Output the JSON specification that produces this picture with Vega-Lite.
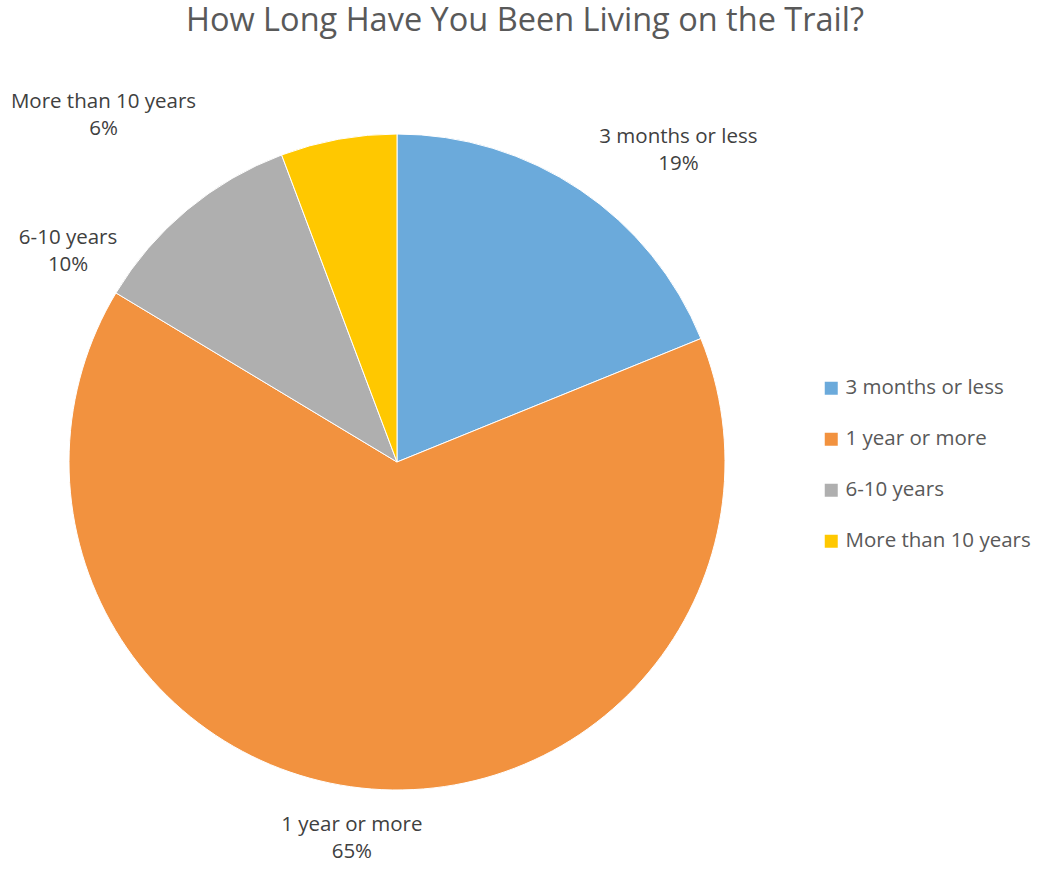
{
  "$schema": "https://vega.github.io/schema/vega-lite/v6.json",
  "width": 794,
  "height": 814,
  "autosize": {"type": "none"},
  "padding": {"left": 0, "top": 55, "right": 244, "bottom": 0},
  "background": "white",
  "title": {
    "text": "How Long Have You Been Living on the Trail?",
    "font": "Open Sans",
    "fontSize": 32.5,
    "fontWeight": "normal",
    "color": "#595959",
    "anchor": "middle",
    "frame": "group",
    "dx": 128,
    "offset": -41,
    "baseline": "alphabetic"
  },
  "data": {
    "values": [
      {"category": "3 months or less", "value": 18.86, "label": "3 months or less\n19%", "idx": 1},
      {"category": "1 year or more", "value": 64.76, "label": "1 year or more\n65%", "idx": 2},
      {"category": "6-10 years", "value": 10.66, "label": "6-10 years\n10%", "idx": 3},
      {"category": "More than 10 years", "value": 5.72, "label": "More than 10 years\n6%", "idx": 4}
    ]
  },
  "encoding": {
    "theta": {"field": "value", "type": "quantitative", "stack": true},
    "order": {"field": "idx", "type": "quantitative"},
    "detail": {"field": "category", "type": "nominal"}
  },
  "layer": [
    {
      "mark": {"type": "arc", "radius": 328, "stroke": "white", "strokeWidth": 1},
      "encoding": {
        "color": {
          "field": "category",
          "type": "nominal",
          "scale": {
            "domain": ["3 months or less", "1 year or more", "6-10 years", "More than 10 years"],
            "range": ["#6BAADB", "#F2923F", "#AFAFAF", "#FFC800"]
          },
          "legend": {
            "title": null,
            "orient": "none",
            "legendX": 821,
            "legendY": 323,
            "symbolType": "square",
            "symbolSize": 169,
            "symbolStrokeWidth": 0,
            "labelFont": "Open Sans",
            "labelFontSize": 20.5,
            "labelColor": "#595959",
            "labelLimit": 300,
            "rowPadding": 30,
            "labelOffset": 4,
            "padding": 0
          }
        }
      }
    },
    {
      "mark": {"type": "text", "radius": 400, "dx": 58, "dy": 7, "font": "Open Sans", "fontSize": 20.5, "color": "#404040", "align": "center", "baseline": "middle", "lineBreak": "\n", "lineHeight": 27},
      "encoding": {"text": {"condition": {"test": "datum.idx == 1", "field": "label"}, "value": ""}}
    },
    {
      "mark": {"type": "text", "radius": 400, "dx": -14, "dy": -36, "font": "Open Sans", "fontSize": 20.5, "color": "#404040", "align": "center", "baseline": "middle", "lineBreak": "\n", "lineHeight": 27},
      "encoding": {"text": {"condition": {"test": "datum.idx == 2", "field": "label"}, "value": ""}}
    },
    {
      "mark": {"type": "text", "radius": 400, "dx": -73, "dy": 83, "font": "Open Sans", "fontSize": 20.5, "color": "#404040", "align": "center", "baseline": "middle", "lineBreak": "\n", "lineHeight": 27},
      "encoding": {"text": {"condition": {"test": "datum.idx == 3", "field": "label"}, "value": ""}}
    },
    {
      "mark": {"type": "text", "radius": 400, "dx": -222, "dy": 34, "font": "Open Sans", "fontSize": 20.5, "color": "#404040", "align": "center", "baseline": "middle", "lineBreak": "\n", "lineHeight": 27},
      "encoding": {"text": {"condition": {"test": "datum.idx == 4", "field": "label"}, "value": ""}}
    }
  ]
}
